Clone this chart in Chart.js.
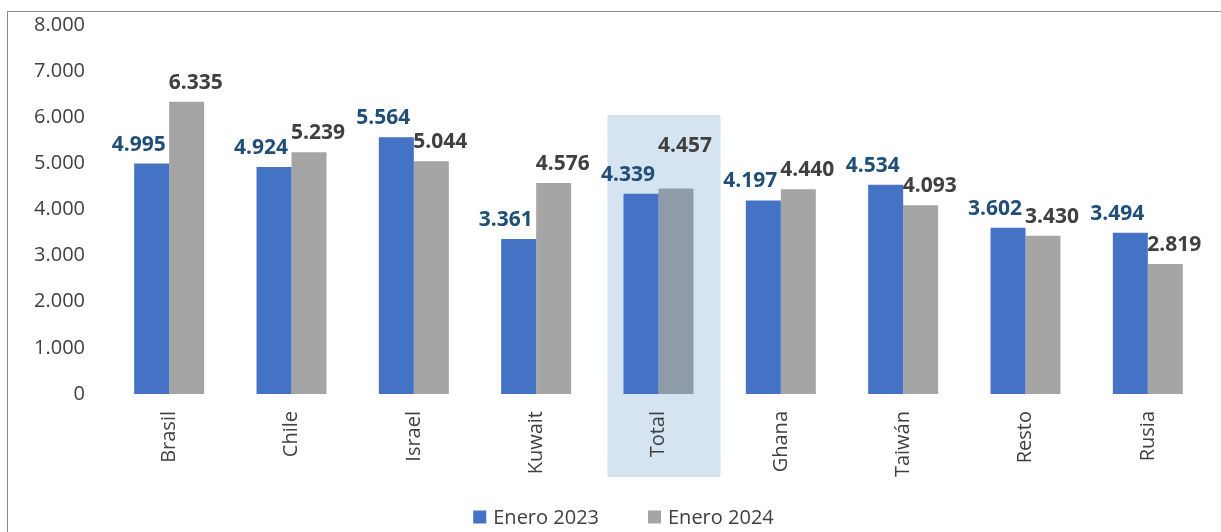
<!DOCTYPE html>
<html>
<head>
<meta charset="utf-8">
<title>Enero 2023 vs Enero 2024</title>
<script src="https://cdn.jsdelivr.net/npm/chart.js@4.4.1/dist/chart.umd.min.js"></script>
<style>
  html, body { margin: 0; padding: 0; background: #fff; }
  #wrap { position: relative; width: 1221px; height: 532px; overflow: hidden; }
  #frame {
    position: absolute; left: 7px; top: 11px; width: 1300px; height: 600px;
    border-left: 1px solid #8c8c8c; border-top: 1px solid #8c8c8c;
  }
  #chart { position: absolute; left: 0; top: 0; }
</style>
</head>
<body>
<div id="wrap">
  <div id="frame"></div>
  <canvas id="chart" width="1221" height="532"></canvas>
</div>
<script>
// Data
const categories = ['Brasil', 'Chile', 'Israel', 'Kuwait', 'Total', 'Ghana', 'Taiwán', 'Resto', 'Rusia'];
const enero2023 = [4995, 4924, 5564, 3361, 4339, 4197, 4534, 3602, 3494];
const enero2024 = [6335, 5239, 5044, 4576, 4457, 4440, 4093, 3430, 2819];
const yTicks = [0, 1000, 2000, 3000, 4000, 5000, 6000, 7000, 8000];

const BLUE = '#4472c4';
const GRAY = '#a5a5a5';
const GRAY_HL = '#8f9ba7';
const TEXT = '#404040';
const FONT = '"Open Sans", "DejaVu Sans", sans-serif';

// 4995 -> "4.995"
function fmt(v) {
  return String(Math.round(v)).replace(/\B(?=(\d{3})+(?!\d))/g, '.');
}

// Light blue box behind the "Total" column
const highlight = {
  id: 'highlight',
  beforeDraw(chart, args, opts) {
    const { ctx, chartArea } = chart;
    const x = chart.scales.x;
    const y = chart.scales.y;
    const cx = x.getPixelForValue(categories.indexOf(opts.category));
    const top = y.getPixelForValue(opts.top);
    ctx.save();
    ctx.fillStyle = opts.color;
    ctx.fillRect(cx - 51, top, 113, chartArea.bottom + 83 - top);
    ctx.restore();
  }
};

// Bold value labels above each bar
const valueLabels = {
  id: 'valueLabels',
  afterDatasetsDraw(chart, args, opts) {
    const ctx = chart.ctx;
    ctx.save();
    ctx.font = 'bold 21px ' + FONT;
    ctx.textAlign = 'center';
    ctx.textBaseline = 'middle';
    chart.data.datasets.forEach((ds, di) => {
      const meta = chart.getDatasetMeta(di);
      meta.data.forEach((bar, i) => {
        const lift = (opts.lift[di] && opts.lift[di][categories[i]]) || 0;
        ctx.fillStyle = opts.colors[di];
        ctx.fillText(fmt(ds.data[i]), bar.x + opts.dx[di], bar.y - 19 - lift);
      });
    });
    ctx.restore();
  }
};

// Legend at the bottom, drawn by hand to get the wide gap between items
const bottomLegend = {
  id: 'bottomLegend',
  afterDraw(chart, args, opts) {
    const ctx = chart.ctx;
    ctx.save();
    ctx.font = '20px ' + FONT;
    ctx.textBaseline = 'middle';
    ctx.textAlign = 'left';
    const items = chart.data.datasets.map(ds => {
      const bg = ds.backgroundColor;
      return {
        text: ds.label,
        color: Array.isArray(bg) ? bg[0] : bg,
        w: 13 + 7 + ctx.measureText(ds.label).width
      };
    });
    const total = items.reduce((s, it) => s + it.w, 0) + opts.gap * (items.length - 1);
    let x = chart.width / 2 + opts.shift - total / 2;
    const y = chart.height - 15;
    items.forEach(it => {
      ctx.fillStyle = it.color;
      ctx.fillRect(x, y - 6.5, 13, 13);
      ctx.fillStyle = TEXT;
      ctx.fillText(it.text, x + 20, y + 1);
      x += it.w + opts.gap;
    });
    ctx.restore();
  }
};

new Chart(document.getElementById('chart'), {
  type: 'bar',
  data: {
    labels: categories,
    datasets: [
      {
        label: 'Enero 2023',
        data: enero2023,
        backgroundColor: BLUE
      },
      {
        label: 'Enero 2024',
        data: enero2024,
        backgroundColor: categories.map(c => c === 'Total' ? GRAY_HL : GRAY)
      }
    ]
  },
  options: {
    responsive: false,
    animation: false,
    categoryPercentage: 0.572,
    barPercentage: 1,
    layout: {
      padding: { top: 25, right: 12, bottom: 29, left: 0 }
    },
    plugins: {
      legend: { display: false },
      tooltip: { enabled: false },
      highlight: { category: 'Total', top: 6050, color: '#d6e3f0' },
      valueLabels: {
        colors: ['#1f4e79', '#404040'],
        dx: [-13, 9],
        lift: [{}, { Total: 23 }]
      },
      bottomLegend: { gap: 49, shift: 13 }
    },
    scales: {
      x: {
        grid: { display: false, drawTicks: false },
        border: { display: false },
        ticks: {
          color: TEXT,
          font: { family: FONT, size: 20 },
          minRotation: 90,
          maxRotation: 90,
          padding: 17
        },
        afterFit(scale) { scale.height = 109; }
      },
      y: {
        min: 0,
        max: 8000,
        grid: { display: false, drawTicks: false },
        border: { display: false },
        afterBuildTicks(scale) {
          scale.ticks = yTicks.map(v => ({ value: v }));
        },
        ticks: {
          color: TEXT,
          font: { family: FONT, size: 20 },
          padding: 23,
          callback: v => fmt(v)
        },
        afterFit(scale) {
          scale.width = 108;
          scale.paddingTop = 0;
          scale.paddingBottom = 0;
        }
      }
    }
  },
  plugins: [highlight, valueLabels, bottomLegend]
});
</script>
</body>
</html>
